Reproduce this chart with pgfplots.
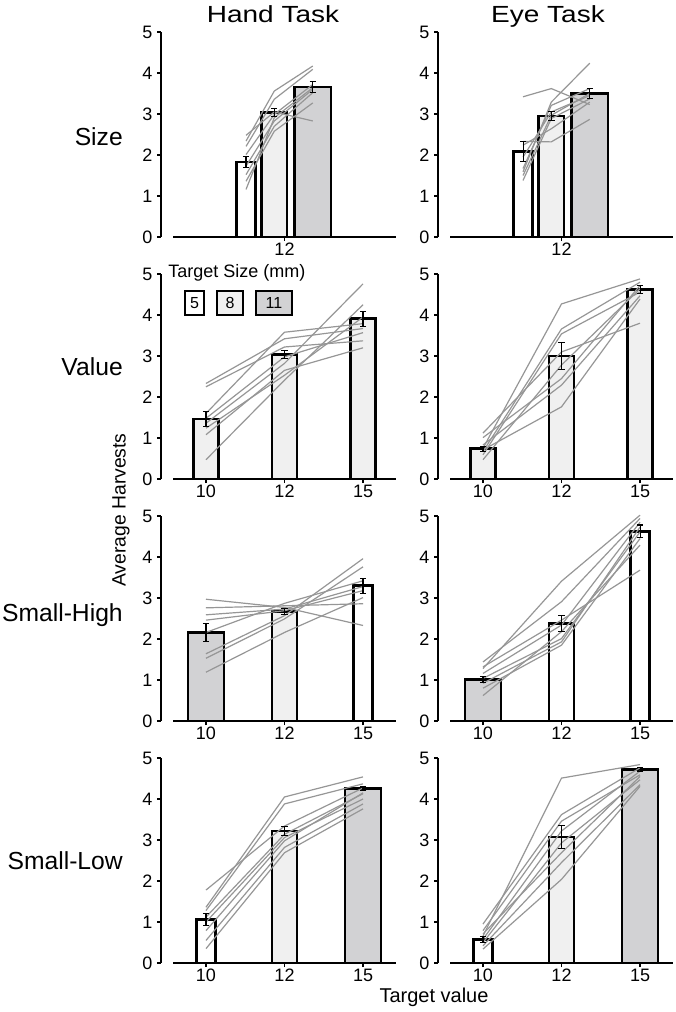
\documentclass[border=0pt]{standalone}
\usepackage{graphicx}
\usepackage{fontspec}
\setmainfont{Liberation Sans}
\usepackage{pgfplots}
\usepackage{pgfplotstable}
\pgfplotsset{compat=1.18}

\definecolor{barlight}{RGB}{240,240,240}
\definecolor{bargray}{RGB}{210,210,212}
\definecolor{subjgray}{RGB}{150,150,150}

% one column per subject, rows = bar positions
\pgfplotstableread{
x    s1   s2   s3   s4   s5   s6   s7   s8
0.51 2.48 2.34 2.21 2.01 1.73 1.52 1.36 1.16
0.87 3.05 3.56 3.36 2.99 2.83 2.70 2.58 2.91
1.36 2.83 4.17 4.09 3.72 3.60 3.52 3.27 3.64
}\handsize
\pgfplotstableread{
x    s1   s2   s3   s4   s5   s6   s7   s8
0.51 3.42 2.33 1.59 1.50 1.38 1.67 2.24 1.95
0.87 3.62 2.32 3.29 2.97 2.89 3.21 2.64 3.05
1.36 3.23 2.87 4.24 3.50 3.37 3.62 3.29 3.45
}\eyesize
\pgfplotstableread{
x s1   s2   s3   s4   s5   s6   s7   s8
0 2.33 2.25 1.60 1.48 1.36 1.24 1.08 0.47
1 3.42 3.22 3.58 2.98 2.82 2.53 2.65 2.41
2 3.67 3.37 3.79 3.57 4.76 3.95 3.20 4.25
}\handvalue
\pgfplotstableread{
x s1   s2   s3   s4   s5   s6   s7   s8
0 0.75 0.67 0.59 1.12 1.01 0.47 0.83 0.71
1 4.27 3.66 3.54 3.10 2.45 2.78 2.29 1.76
2 4.88 4.80 4.56 3.80 4.72 4.64 4.47 4.39
}\eyevalue
\pgfplotstableread{
x s1   s2   s3   s4   s5   s6   s7   s8
0 2.97 2.76 2.59 2.46 2.16 1.64 1.53 1.19
1 2.77 2.81 2.73 2.69 2.87 2.57 2.49 2.16
2 2.33 2.86 3.28 3.18 3.42 3.96 3.76 3.01
}\handsh
\pgfplotstableread{
x s1   s2   s3   s4   s5   s6   s7   s8
0 1.28 1.44 1.32 1.16 1.04 0.92 0.80 0.62
1 3.41 2.91 2.46 2.34 2.01 1.93 1.85 2.18
2 5.02 4.94 3.68 4.85 4.61 4.73 4.45 4.29
}\eyesh
\pgfplotstableread{
x s1   s2   s3   s4   s5   s6   s7   s8
0 1.36 1.28 1.78 1.12 1.00 0.79 0.55 0.35
1 4.05 3.88 3.34 3.14 3.06 2.98 2.82 2.69
2 4.54 4.37 4.27 4.13 4.00 4.15 3.88 3.76
}\handsl
\pgfplotstableread{
x s1   s2   s3   s4   s5   s6   s7   s8
0 0.66 0.95 0.79 0.58 0.50 0.71 0.42 0.34
1 4.51 3.62 3.46 3.22 2.93 2.69 2.45 2.04
2 4.84 4.76 4.59 4.68 4.47 4.55 4.35 4.31
}\eyesl

\pgfplotsset{
  panel/.style={
    scale only axis, width=167.25pt, height=153.75pt,
    anchor=south west,
    xmin=-0.42, xmax=2.42, ymin=0, ymax=5,
    axis x line=bottom, axis y line=left,
    axis line style={-, line width=1.6pt, black},
    y axis line style={xshift=-9pt},
    ytick={0,1,2,3,4,5},
    ytick style={xshift=-9pt, line width=1pt, black},
    xtick style={line width=1pt, black},
    yticklabel style={xshift=-9pt, font=\fontsize{13.5}{15}\selectfont},
    xticklabel style={inner sep=1.5pt, font=\fontsize{13.5}{15}\selectfont},
    tick align=outside, major tick length=3pt,
    xtick={0,1,2}, xticklabels={10,12,15},
    /pgf/number format/assume math mode=true,
    clip=false,
  },
  subj/.style={subjgray, line width=0.9pt, mark=none, forget plot},
  bar/.style={ybar, bar shift=0pt, draw=black, line width=2pt, forget plot},
  b5/.style={bar, bar width=0.24, fill=white},
  b8/.style={bar, bar width=0.32, fill=barlight},
  b8w/.style={bar, bar width=0.32, fill=white},
  b11/.style={bar, bar width=0.46, fill=bargray},
  err/.style={draw=none, mark=none, forget plot,
    error bars/.cd, y dir=both, y explicit,
    error bar style={draw=black, line width=0.8pt},
    error mark options={draw=black, rotate=90, mark size=2.4pt, line width=0.8pt}},
}

\newcommand\subjects[1]{%
  \pgfplotsinvokeforeach{1,...,8}{\addplot[subj] table[x=x,y=s##1]{#1};}}

\begin{document}
\begin{tikzpicture}
\path[use as bounding box] (0,0) rectangle (506.25pt,-759pt);

% ---- row 1: Size
\begin{axis}[panel, at={(173*0.75pt,-237*0.75pt)}, xtick={1}, xticklabels={12}]
\addplot[b5] coordinates {(0.51,1.83)};
\addplot[b8] coordinates {(0.87,3.03)};
\addplot[b11] coordinates {(1.36,3.66)};
\subjects{\handsize}
\addplot[err] coordinates {(0.51,1.83) +- (0,0.13) (0.87,3.03) +- (0,0.10) (1.36,3.66) +- (0,0.13)};
\end{axis}
\begin{axis}[panel, at={(450*0.75pt,-237*0.75pt)}, xtick={1}, xticklabels={12}]
\addplot[b5] coordinates {(0.51,2.09)};
\addplot[b8] coordinates {(0.87,2.95)};
\addplot[b11] coordinates {(1.36,3.50)};
\subjects{\eyesize}
\addplot[err] coordinates {(0.51,2.09) +- (0,0.25) (0.87,2.95) +- (0,0.10) (1.36,3.50) +- (0,0.12)};
\end{axis}

% ---- row 2: Value
\begin{axis}[panel, at={(173*0.75pt,-479*0.75pt)}]
\addplot[b8] coordinates {(0,1.46)};
\addplot[b8] coordinates {(1,3.04)};
\addplot[b8] coordinates {(2,3.91)};
\subjects{\handvalue}
\addplot[err] coordinates {(0,1.46) +- (0,0.18) (1,3.04) +- (0,0.10) (2,3.91) +- (0,0.18)};
\end{axis}
\begin{axis}[panel, at={(450*0.75pt,-479*0.75pt)}]
\addplot[b8] coordinates {(0,0.74)};
\addplot[b8] coordinates {(1,3.00)};
\addplot[b8] coordinates {(2,4.62)};
\subjects{\eyevalue}
\addplot[err] coordinates {(0,0.74) +- (0,0.06) (1,3.00) +- (0,0.32) (2,4.62) +- (0,0.10)};
\end{axis}

% ---- row 3: Small-High
\begin{axis}[panel, at={(173*0.75pt,-721*0.75pt)}]
\addplot[b11] coordinates {(0,2.16)};
\addplot[b8] coordinates {(1,2.67)};
\addplot[b5] coordinates {(2,3.30)};
\subjects{\handsh}
\addplot[err] coordinates {(0,2.16) +- (0,0.22) (1,2.67) +- (0,0.07) (2,3.30) +- (0,0.18)};
\end{axis}
\begin{axis}[panel, at={(450*0.75pt,-721*0.75pt)}]
\addplot[b11] coordinates {(0,1.02)};
\addplot[b8w] coordinates {(1,2.38)};
\addplot[b5] coordinates {(2,4.63)};
\subjects{\eyesh}
\addplot[err] coordinates {(0,1.02) +- (0,0.07) (1,2.38) +- (0,0.20) (2,4.63) +- (0,0.15)};
\end{axis}

% ---- row 4: Small-Low
\begin{axis}[panel, at={(173*0.75pt,-963*0.75pt)}]
\addplot[b5] coordinates {(0,1.06)};
\addplot[b8] coordinates {(1,3.22)};
\addplot[b11] coordinates {(2,4.25)};
\subjects{\handsl}
\addplot[err] coordinates {(0,1.06) +- (0,0.15) (1,3.22) +- (0,0.12) (2,4.25) +- (0,0.05)};
\end{axis}
\begin{axis}[panel, at={(450*0.75pt,-963*0.75pt)}]
\addplot[b5] coordinates {(0,0.58)};
\addplot[b8] coordinates {(1,3.07)};
\addplot[b11] coordinates {(2,4.72)};
\subjects{\eyesl}
\addplot[err] coordinates {(0,0.58) +- (0,0.07) (1,3.07) +- (0,0.28) (2,4.72) +- (0,0.05)};
\end{axis}

% ---- titles and labels
\node[anchor=base] at (273*0.75pt,-23*0.75pt) {\scalebox{1.2}[1]{\fontsize{17.5}{20}\selectfont Hand Task}};
\node[anchor=base] at (548*0.75pt,-23*0.75pt) {\scalebox{1.2}[1]{\fontsize{17.5}{20}\selectfont Eye Task}};
\begin{scope}[every node/.style={anchor=east, font=\fontsize{18.5}{21}\selectfont, inner sep=0pt}]
\node at (123*0.75pt,-137*0.75pt) {Size};
\node at (123*0.75pt,-367*0.75pt) {Value};
\node at (123*0.75pt,-615*0.75pt) {Small-High};
\node at (123*0.75pt,-861*0.75pt) {Small-Low};
\end{scope}
\node[rotate=90, font=\fontsize{14.5}{17}\selectfont] at (121*0.75pt,-510*0.75pt) {Average Harvests};
\node[anchor=base, inner sep=0pt, font=\fontsize{15}{17}\selectfont] at (434*0.75pt,-1002*0.75pt) {Target value};

% ---- size key
\node[anchor=west, font=\fontsize{13.5}{16}\selectfont, inner sep=0pt] at (168*0.75pt,-273*0.75pt) {Target Size (mm)};
\begin{scope}[line width=2pt, font=\fontsize{12}{14}\selectfont]
\draw[fill=white] (185*0.75pt,-291*0.75pt) rectangle (204*0.75pt,-315*0.75pt);
\node at (194.5*0.75pt,-303*0.75pt) {5};
\draw[fill=barlight] (217*0.75pt,-291*0.75pt) rectangle (243*0.75pt,-315*0.75pt);
\node at (230*0.75pt,-303*0.75pt) {8};
\draw[fill=bargray] (256*0.75pt,-291*0.75pt) rectangle (292*0.75pt,-315*0.75pt);
\node at (274*0.75pt,-303*0.75pt) {11};
\end{scope}
\end{tikzpicture}
\end{document}
